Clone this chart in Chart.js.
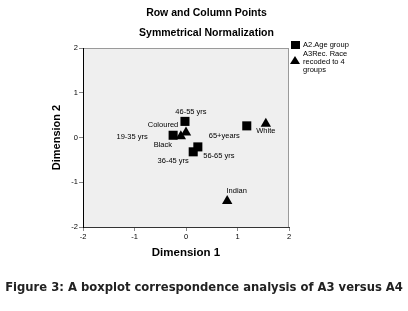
<!DOCTYPE html>
<html lang="en">
<head>
    <meta charset="UTF-8">
    <script src="https://cdn.jsdelivr.net/npm/chart.js"></script>
    <style>
        html, body { margin: 0; padding: 0; background: #fff; }
        #wrap { position: relative; width: 408px; height: 311px; overflow: hidden; }
        #plotCanvas { position: absolute; left: 0; top: 0; }
        .title { position: absolute; left: 0; width: 413px; text-align: center; font: bold 10.5px "Liberation Sans", Arial, sans-serif; color: #000; }
        .legend { position: absolute; font: 7.5px "Liberation Sans", Arial, sans-serif; color: #000; line-height: 8px; }
        .legend .sq { position: absolute; left: 0; top: 0; width: 9px; height: 8px; background: #000; }
        .legend .tri { position: absolute; left: 0; top: 0; width: 0; height: 0; border-left: 5px solid transparent; border-right: 5px solid transparent; border-bottom: 8px solid #000; }
        #caption { position: absolute; left: 0; top: 280px; width: 408px; text-align: center; font: bold 11.6px "DejaVu Sans", Verdana, sans-serif; color: #222; white-space: nowrap; }
    </style>
</head>
<body>
<div id="wrap">
    <canvas id="plotCanvas" width="408" height="311"></canvas>
    <div class="title" style="top:6px">Row and Column Points</div>
    <div class="title" style="top:26px">Symmetrical Normalization</div>

    <!-- legend -->
    <div class="legend" style="left:291px; top:41px;"><div class="sq"></div></div>
    <div class="legend" style="left:303px; top:41px;">A2.Age group</div>
    <div class="legend" style="left:290px; top:56px;"><div class="tri"></div></div>
    <div class="legend" style="left:303px; top:50px;">A3Rec. Race<br>recoded to 4<br>groups</div>

    <div id="caption">Figure 3: A boxplot correspondence analysis of A3 versus A4</div>
</div>
<script>
    // Row points: age groups
    const ageLabels = ['19-35 yrs', '36-45 yrs', '46-55 yrs', '56-65 yrs', '65+years'];
    const ageDim1 = [-0.25, 0.14, -0.02, 0.23, 1.18];
    const ageDim2 = [0.05, -0.32, 0.36, -0.21, 0.26];

    // Column points: race
    const raceLabels = ['Black', 'Coloured', 'Indian', 'White'];
    const raceDim1 = [-0.10, 0.00, 0.80, 1.55];
    const raceDim2 = [0.03, 0.11, -1.42, 0.31];

    const tickValues = [-2, -1, 0, 1, 2];

    // where each point label sits relative to its marker (px)
    const ageLabelOffset = [[-41, 2], [-20, 9], [6, -9.5], [21, 9.5], [-22.5, 10]];
    const raceLabelOffset = [[-18, 8.5], [-23, -8], [9.5, -10], [0, 7.5]];

    const toPoints = (xs, ys) => xs.map((x, i) => ({ x: x, y: ys[i] }));

    // plot panel background and grey frame
    const panelPlugin = {
        id: 'panel',
        beforeDraw(chart) {
            const { ctx, chartArea: a } = chart;
            ctx.save();
            ctx.fillStyle = '#efefef';
            ctx.fillRect(a.left, a.top, a.right - a.left, a.bottom - a.top);
            ctx.strokeStyle = '#9a9a9a';
            ctx.lineWidth = 1;
            ctx.beginPath();
            ctx.moveTo(a.left, Math.round(a.top) + 0.5);
            ctx.lineTo(a.right, Math.round(a.top) + 0.5);
            ctx.moveTo(Math.round(a.right) - 0.5, a.top);
            ctx.lineTo(Math.round(a.right) - 0.5, a.bottom);
            ctx.stroke();
            ctx.restore();
        }
    };

    // text next to each point
    const pointLabelPlugin = {
        id: 'pointLabels',
        afterDatasetsDraw(chart) {
            const ctx = chart.ctx;
            ctx.save();
            ctx.font = '7.5px "Liberation Sans", Arial, sans-serif';
            ctx.fillStyle = '#000';
            ctx.textAlign = 'center';
            ctx.textBaseline = 'middle';
            chart.data.datasets.forEach((ds, di) => {
                const meta = chart.getDatasetMeta(di);
                meta.data.forEach((pt, i) => {
                    const off = ds.labelOffset[i];
                    ctx.fillText(ds.pointNames[i], pt.x + off[0], pt.y + off[1]);
                });
            });
            ctx.restore();
        }
    };

    const tickFont = { family: '"Liberation Sans", Arial, sans-serif', size: 7.5 };

    new Chart(document.getElementById('plotCanvas'), {
        type: 'scatter',
        data: {
            datasets: [
                {
                    label: 'A3Rec. Race recoded to 4 groups',
                    data: toPoints(raceDim1, raceDim2),
                    pointNames: raceLabels,
                    labelOffset: raceLabelOffset,
                    pointStyle: 'triangle',
                    pointRadius: 6,
                    backgroundColor: '#000',
                    borderColor: '#000',
                    borderWidth: 0
                },
                {
                    label: 'A2.Age group',
                    data: toPoints(ageDim1, ageDim2),
                    pointNames: ageLabels,
                    labelOffset: ageLabelOffset,
                    pointStyle: 'rect',
                    pointRadius: 6.4,
                    backgroundColor: '#000',
                    borderColor: '#000',
                    borderWidth: 0
                }
            ]
        },
        options: {
            responsive: false,
            animation: false,
            events: [],
            layout: { padding: { left: 0, top: 48, right: 119, bottom: 50 } },
            plugins: {
                legend: { display: false },
                title: { display: false },
                tooltip: { enabled: false }
            },
            scales: {
                x: {
                    type: 'linear',
                    min: -2,
                    max: 2,
                    afterFit: s => { s.height = 34; },
                    afterBuildTicks: s => { s.ticks = tickValues.map(v => ({ value: v })); },
                    ticks: { font: tickFont, color: '#000', padding: 1, maxRotation: 0 },
                    grid: { drawOnChartArea: false, drawTicks: true, tickLength: 4, tickColor: '#888' },
                    border: { display: true, color: '#333', width: 1 },
                    title: {
                        display: true,
                        text: 'Dimension 1',
                        color: '#000',
                        font: { family: '"Liberation Sans", Arial, sans-serif', size: 11.5, weight: 'bold' },
                        padding: { top: 0, bottom: 1 }
                    }
                },
                y: {
                    type: 'linear',
                    min: -2,
                    max: 2,
                    afterFit: s => { s.width = 83; },
                    afterBuildTicks: s => { s.ticks = tickValues.map(v => ({ value: v })); },
                    ticks: { font: tickFont, color: '#000', padding: 1 },
                    grid: { drawOnChartArea: false, drawTicks: true, tickLength: 4, tickColor: '#888' },
                    border: { display: true, color: '#000', width: 1 },
                    title: {
                        display: true,
                        text: 'Dimension 2',
                        color: '#000',
                        font: { family: '"Liberation Sans", Arial, sans-serif', size: 11, weight: 'bold' },
                        padding: { top: 50, bottom: 0 }
                    }
                }
            }
        },
        plugins: [panelPlugin, pointLabelPlugin]
    });
</script>
</body>
</html>
